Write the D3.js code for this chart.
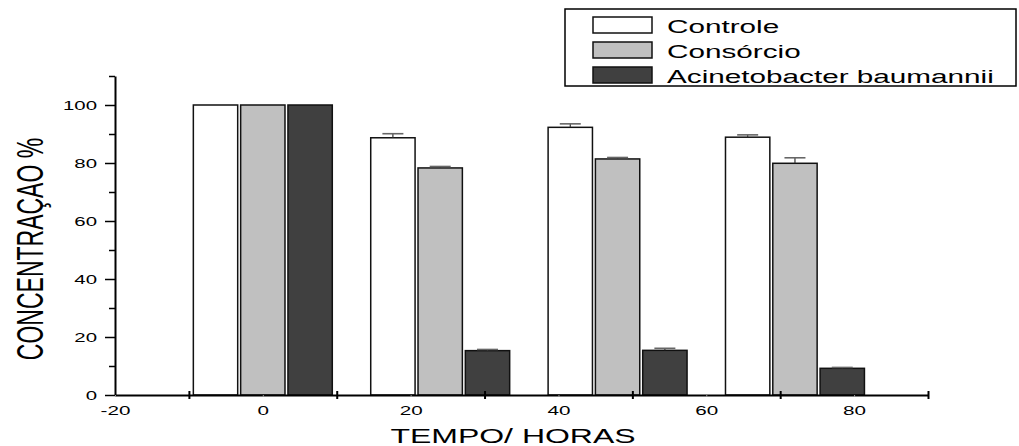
<!DOCTYPE html>
<html>
<head>
<meta charset="utf-8">
<script src="https://cdn.jsdelivr.net/npm/d3@7"></script>
<style>
  body { margin: 0; background: #fff; }
  svg { display: block; font-family: "Liberation Sans", Arial, sans-serif; }
</style>
</head>
<body>
<main></main>
<script>
// data
let hours = [0, 24, 48, 72]
let seriesNames = ["Controle", "Consórcio", "Acinetobacter baumannii"]
let controle = [100, 88.7, 92.3, 88.9]
let controleErr = [0, 1.4, 1.2, 0.8]
let consorcio = [100, 78.3, 81.4, 79.9]
let consorcioErr = [0, 0.5, 0.5, 1.9]
let acineto = [100, 15.3, 15.4, 9.2]
let acinetoErr = [0, 0.4, 0.7, 0.3]
let xLabelTicks = [-20, 0, 20, 40, 60, 80]
let xMajorTicks = [-10, 10, 30, 50, 70, 90]
let yLabelTicks = [0, 20, 40, 60, 80, 100]
let yMinorTicks = [10, 30, 50, 70, 90, 110]

let fills = ["#ffffff", "#c0c0c0", "#404040"]
let values = [controle, consorcio, acineto]
let errors = [controleErr, consorcioErr, acinetoErr]

// text in the original is stretched sideways
let sx = 1.6

let svg = d3.select('main').append('svg')
    .attr('width', 1019)
    .attr('height', 446)

let x = d3.scaleLinear().domain([-20, 90]).range([115, 928])
let y = d3.scaleLinear().domain([0, 110]).range([395, 76])

let barW = 6, barStep = 6.4

// bars
values.forEach(function (vals, s) {
    let g = svg.append('g')
    g.selectAll('rect')
        .data(hours)
        .enter().append('rect')
        .attr('x', (h) => x(h + (s - 1) * barStep - barW / 2))
        .attr('y', (h, i) => y(vals[i]))
        .attr('width', (h) => x(h + barW) - x(h))
        .attr('height', (h, i) => y(0) - y(vals[i]))
        .attr('fill', fills[s])
        .attr('stroke', '#111')
        .attr('stroke-width', 1.5)

    // upper error bars
    let eb = hours.map((h, i) => ({ h: h, v: vals[i], e: errors[s][i] })).filter((d) => d.e > 0)
    let cx = (d) => x(d.h + (s - 1) * barStep)
    g.selectAll('line.stem')
        .data(eb)
        .enter().append('line')
        .attr('class', 'stem')
        .attr('x1', cx).attr('x2', cx)
        .attr('y1', (d) => y(d.v)).attr('y2', (d) => y(d.v + d.e))
        .attr('stroke', '#333')
        .attr('stroke-width', 1.2)
    g.selectAll('line.cap')
        .data(eb)
        .enter().append('line')
        .attr('class', 'cap')
        .attr('x1', (d) => cx(d) - 10.5).attr('x2', (d) => cx(d) + 10.5)
        .attr('y1', (d) => y(d.v + d.e)).attr('y2', (d) => y(d.v + d.e))
        .attr('stroke', '#666')
        .attr('stroke-width', 1.6)
})

// y axis
let yAxis = svg.append('g')
    .attr('transform', 'translate(115,0)')
    .call(d3.axisLeft(y).tickValues(yLabelTicks).tickSize(10).tickSizeOuter(0))
yAxis.select('.domain').attr('stroke', '#000').attr('stroke-width', 2)
yAxis.selectAll('.tick line').attr('stroke', '#000').attr('stroke-width', 1.5)
yAxis.selectAll('.tick text')
    .attr('x', null)
    .attr('dy', '0.36em')
    .attr('transform', `translate(-18,0) scale(1.7,1)`)
    .attr('font-size', 12)
    .attr('font-family', '"Liberation Sans", Arial, sans-serif')
    .attr('fill', '#000')

let yMinor = svg.append('g')
    .attr('transform', 'translate(115,0)')
    .call(d3.axisLeft(y).tickValues(yMinorTicks).tickSize(6).tickFormat(''))
yMinor.select('.domain').remove()
yMinor.selectAll('.tick line').attr('stroke', '#000').attr('stroke-width', 1.5)

// x axis
let xAxis = svg.append('g')
    .attr('transform', 'translate(0,395)')
    .call(d3.axisBottom(x).tickValues(xLabelTicks).tickSize(2).tickSizeOuter(0)
        .tickFormat((d) => String(d)))
xAxis.select('.domain').attr('stroke', '#000').attr('stroke-width', 2)
xAxis.selectAll('.tick line').attr('stroke', '#999').attr('stroke-width', 1)
xAxis.selectAll('.tick text')
    .attr('y', null)
    .attr('dy', null)
    .attr('transform', `translate(0,20) scale(1.72,1)`)
    .attr('font-size', 12)
    .attr('font-family', '"Liberation Sans", Arial, sans-serif')
    .attr('fill', '#000')

let xMajor = svg.append('g')
    .attr('transform', 'translate(0,395)')
    .call(d3.axisBottom(x).tickValues(xMajorTicks).tickSize(4).tickFormat(''))
xMajor.select('.domain').remove()
xMajor.selectAll('.tick line')
    .attr('y1', -4)
    .attr('y2', 4)
    .attr('stroke', '#000')
    .attr('stroke-width', 2)

// axis titles
svg.append('text')
    .attr('transform', `translate(513,443) scale(${sx},1)`)
    .attr('text-anchor', 'middle')
    .attr('font-size', 20)
    .attr('fill', '#000')
    .text('TEMPO/ HORAS')

svg.append('text')
    .attr('transform', `translate(43,249) scale(${sx},1) rotate(-90)`)
    .attr('text-anchor', 'middle')
    .attr('font-size', 23)
    .attr('fill', '#000')
    .text('CONCENTRAÇAO %')

// legend
let legend = svg.append('g')
legend.append('rect')
    .attr('x', 565)
    .attr('y', 9)
    .attr('width', 451)
    .attr('height', 77)
    .attr('fill', '#fff')
    .attr('stroke', '#000')
    .attr('stroke-width', 1.5)

seriesNames.forEach(function (name, i) {
    legend.append('rect')
        .attr('x', 593)
        .attr('y', 17 + i * 25)
        .attr('width', 59)
        .attr('height', 16)
        .attr('fill', fills[i])
        .attr('stroke', '#111')
        .attr('stroke-width', 1.5)
    legend.append('text')
        .attr('transform', `translate(667,${33 + i * 25}) scale(1.65,1)`)
        .attr('font-size', 18)
        .attr('fill', '#000')
        .text(name)
})
</script>
</body>
</html>
